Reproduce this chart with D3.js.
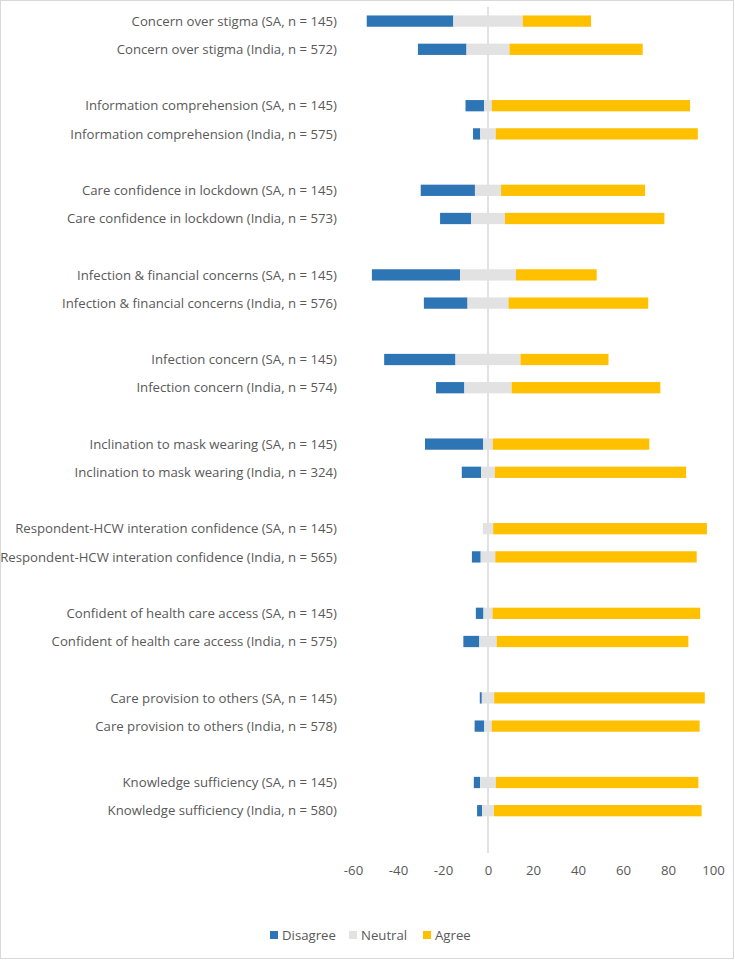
<!DOCTYPE html>
<html>
<head>
<meta charset="utf-8">
<script src="https://cdn.jsdelivr.net/npm/d3@7"></script>
<style>
  body { margin: 0; background: #fff; }
  text { font-family: "Open Sans", "Noto Sans", sans-serif; fill: #595959; }
</style>
</head>
<body>
<div id="chart"></div>
<script>
// rows, top to bottom (percent of respondents)
const labels = [
  "Concern over stigma (SA, n = 145)",
  "Concern over stigma (India, n = 572)",
  "Information comprehension (SA, n = 145)",
  "Information comprehension (India, n = 575)",
  "Care confidence in lockdown (SA, n = 145)",
  "Care confidence in lockdown (India, n = 573)",
  "Infection & financial concerns (SA, n = 145)",
  "Infection & financial concerns (India, n = 576)",
  "Infection concern (SA, n = 145)",
  "Infection concern (India, n = 574)",
  "Inclination to mask wearing (SA, n = 145)",
  "Inclination to mask wearing (India, n = 324)",
  "Respondent-HCW interation confidence (SA, n = 145)",
  "Respondent-HCW interation confidence (India, n = 565)",
  "Confident of health care access (SA, n = 145)",
  "Confident of health care access (India, n = 575)",
  "Care provision to others (SA, n = 145)",
  "Care provision to others (India, n = 578)",
  "Knowledge sufficiency (SA, n = 145)",
  "Knowledge sufficiency (India, n = 580)"
]
const disagree = [38.5, 21.6, 8.3, 3.2, 24.1, 13.8, 39.2, 19.4, 31.7, 12.6, 25.9, 8.6, 0, 3.9, 3.4, 7.1, 0.9, 4.3, 2.8, 2.2]
const neutral  = [30.8, 19.1, 3.4, 6.9, 11.6, 15.0, 24.8, 18.2, 28.9, 21.0, 4.2, 6.1, 4.6, 6.5, 4.0, 7.7, 5.5, 3.3, 7.0, 5.3]
const agree    = [30.4, 59.2, 88.1, 89.8, 64.0, 70.9, 35.9, 62.1, 39.1, 66.1, 69.6, 85.0, 95.0, 89.5, 92.3, 85.2, 93.6, 92.4, 90.0, 92.3]
const xTicks = [-60, -40, -20, 0, 20, 40, 60, 80, 100]
const seriesNames = ["Disagree", "Neutral", "Agree"]
const colors = ["#2E75B6", "#E2E2E2", "#FFC000"]

const width = 735, height = 960

const svg = d3.select("#chart").append("svg")
    .attr("width", width)
    .attr("height", height)

// chart area border
svg.append("rect")
    .attr("x", 0.5).attr("y", 0.5)
    .attr("width", width - 2).attr("height", height - 2)
    .attr("fill", "#fff")
    .attr("stroke", "#d9d9d9")

const x = d3.scaleLinear()
    .domain([-60, 100])
    .range([353, 713])

// two rows per group, one empty slot between groups, one empty slot at the end
const slot = i => i + Math.floor(i / 2)
const nSlots = slot(labels.length - 1) + 2

const y = d3.scaleBand()
    .domain(d3.range(nSlots))
    .range([7, 853])
    .paddingInner(0.6)
    .paddingOuter(0.3)

const rows = labels.map((label, i) => ({
    label,
    i,
    d: disagree[i],
    n: neutral[i],
    a: agree[i]
}))

// zero line
svg.append("line")
    .attr("x1", x(0)).attr("x2", x(0))
    .attr("y1", 7).attr("y2", 853)
    .attr("stroke", "#d9d9d9")
    .attr("stroke-width", 1.5)

const segments = []
rows.forEach(r => {
    segments.push({ row: r.i, s: 0, x0: -r.n / 2 - r.d, x1: -r.n / 2 })
    segments.push({ row: r.i, s: 1, x0: -r.n / 2, x1: r.n / 2 })
    segments.push({ row: r.i, s: 2, x0: r.n / 2, x1: r.n / 2 + r.a })
})

svg.append("g").selectAll("rect")
    .data(segments.filter(s => s.x1 > s.x0))
    .enter()
    .append("rect")
    .attr("x", d => x(d.x0))
    .attr("width", d => x(d.x1) - x(d.x0))
    .attr("y", d => y(slot(d.row)))
    .attr("height", y.bandwidth())
    .attr("fill", d => colors[d.s])

// category labels
svg.append("g").selectAll("text")
    .data(rows)
    .enter()
    .append("text")
    .attr("x", 337)
    .attr("y", d => y(slot(d.i)) + y.bandwidth() / 2)
    .attr("dy", "0.35em")
    .attr("text-anchor", "end")
    .attr("font-size", 13.2)
    .text(d => d.label)

// x axis labels (plain hyphen minus, like the original)
const xAxis = d3.axisBottom(x).tickValues(xTicks).tickSize(0).tickPadding(0)
    .tickFormat(d => String(d))
const gx = svg.append("g")
    .attr("transform", "translate(0,866)")
    .call(xAxis)
gx.select(".domain").remove()
gx.selectAll("text")
    .attr("font-size", 13.2)
    .attr("font-family", null)
    .attr("fill", "#595959")

// legend
const legendX = [270, 349, 423]
const legend = svg.append("g").selectAll("g")
    .data(seriesNames)
    .enter()
    .append("g")
    .attr("transform", (d, i) => `translate(${legendX[i]},935)`)
legend.append("rect")
    .attr("x", 0).attr("y", -4)
    .attr("width", 8).attr("height", 8)
    .attr("fill", (d, i) => colors[i])
legend.append("text")
    .attr("x", 12)
    .attr("dy", "0.35em")
    .attr("font-size", 13.2)
    .text(d => d)
</script>
</body>
</html>
